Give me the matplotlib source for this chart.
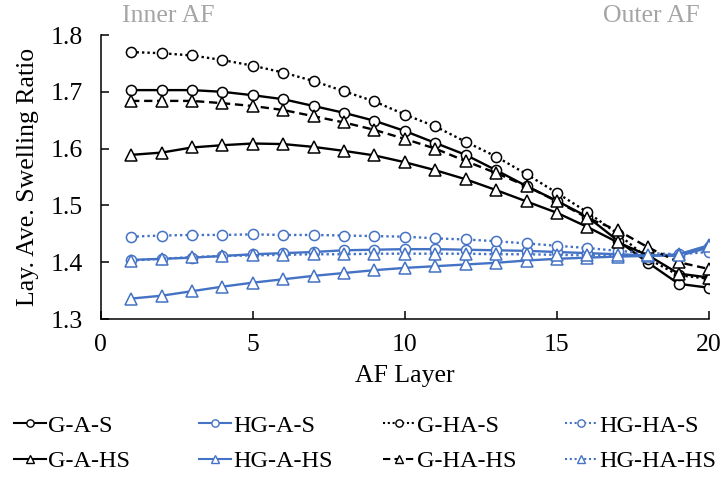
import matplotlib
matplotlib.use("Agg")
import matplotlib.pyplot as plt
from matplotlib.lines import Line2D

plt.rcParams['font.family'] = ['Liberation Serif', 'DejaVu Serif']

layers = list(range(1, 21))

g_a_s = [1.703, 1.703, 1.703, 1.700, 1.694, 1.687, 1.675, 1.663, 1.649, 1.631,
         1.610, 1.589, 1.562, 1.534, 1.508, 1.480, 1.438, 1.399, 1.362, 1.355]
g_ha_s = [1.770, 1.768, 1.764, 1.756, 1.746, 1.734, 1.719, 1.701, 1.683, 1.660,
          1.639, 1.612, 1.586, 1.555, 1.522, 1.488, 1.450, 1.406, 1.377, 1.371]
g_a_hs = [1.589, 1.593, 1.602, 1.606, 1.609, 1.608, 1.603, 1.596, 1.588, 1.576,
          1.562, 1.546, 1.527, 1.507, 1.487, 1.462, 1.435, 1.412, 1.380, 1.373]
g_ha_hs = [1.684, 1.684, 1.684, 1.680, 1.675, 1.668, 1.657, 1.646, 1.633, 1.617,
           1.600, 1.578, 1.557, 1.534, 1.507, 1.478, 1.456, 1.426, 1.400, 1.388]

hg_a_s = [1.404, 1.406, 1.408, 1.411, 1.414, 1.416, 1.418, 1.421, 1.422, 1.423,
          1.423, 1.422, 1.421, 1.420, 1.418, 1.416, 1.414, 1.412, 1.411, 1.426]
hg_ha_s = [1.445, 1.447, 1.448, 1.448, 1.449, 1.448, 1.448, 1.447, 1.446, 1.445,
           1.442, 1.440, 1.437, 1.433, 1.429, 1.425, 1.420, 1.416, 1.414, 1.418]
hg_a_hs = [1.336, 1.341, 1.349, 1.357, 1.364, 1.370, 1.376, 1.381, 1.386, 1.390,
           1.393, 1.396, 1.399, 1.403, 1.406, 1.408, 1.410, 1.411, 1.414, 1.430]
hg_ha_hs = [1.403, 1.406, 1.409, 1.411, 1.412, 1.413, 1.414, 1.414, 1.415, 1.415,
            1.415, 1.415, 1.414, 1.414, 1.413, 1.412, 1.412, 1.412, 1.413, 1.428]

x_ticks = [0, 5, 10, 15, 20]
y_ticks = [1.3, 1.4, 1.5, 1.6, 1.7, 1.8]

BLACK = '#000000'
BLUE = '#4472C4'
DOT = (0, (1, 1.3))
DASH = (0, (3.5, 2))

series = [
    # label, values, color, linestyle, marker
    ('G-A-S', g_a_s, BLACK, '-', 'o'),
    ('HG-A-S', hg_a_s, BLUE, '-', 'o'),
    ('G-HA-S', g_ha_s, BLACK, DOT, 'o'),
    ('HG-HA-S', hg_ha_s, BLUE, DOT, 'o'),
    ('G-A-HS', g_a_hs, BLACK, '-', '^'),
    ('HG-A-HS', hg_a_hs, BLUE, '-', '^'),
    ('G-HA-HS', g_ha_hs, BLACK, DASH, '^'),
    ('HG-HA-HS', hg_ha_hs, BLUE, DOT, '^'),
]

W, H = 721, 479
fig = plt.figure(figsize=(W / 100, H / 100), dpi=100)
ax = fig.add_axes([0.1397, 0.334, 0.8437, 0.5929])

handles = {}
for label, vals, color, ls, mk in series:
    ms = 7.3 if mk == 'o' else 8.3
    ax.plot(layers, vals, color=color, linestyle=ls, linewidth=1.7,
            marker=mk, markersize=ms, markerfacecolor='white',
            markeredgecolor=color, markeredgewidth=1.1)
    handles[label] = Line2D([], [], color=color, linestyle=ls, linewidth=1.5,
                            marker=mk, markersize=ms * 0.72,
                            markerfacecolor='white', markeredgecolor=color,
                            markeredgewidth=1.0)

ax.set_xlim(0, 20)
ax.set_ylim(1.3, 1.8)
ax.set_xticks(x_ticks)
ax.set_yticks(y_ticks)
ax.set_yticklabels([f'{v:.1f}' for v in y_ticks])
for side in ('top', 'right'):
    ax.spines[side].set_visible(False)
for side in ('left', 'bottom'):
    ax.spines[side].set_linewidth(1.1)
ax.tick_params(direction='in', length=6, width=1.1, labelsize=18.5)
ax.tick_params(axis='x', pad=11)
ax.tick_params(axis='y', pad=13)

ax.set_xlabel('AF Layer', fontsize=18.5, labelpad=6)
ax.set_ylabel('Lay. Ave. Swelling Ratio', fontsize=18.5, labelpad=8)

fig.text(122 / W, 1 - 22 / H, 'Inner AF', color='#A5A5A5', fontsize=18.5,
         ha='left', va='baseline')
fig.text(700 / W, 1 - 22 / H, 'Outer AF', color='#A5A5A5', fontsize=18.5,
         ha='right', va='baseline')

# one two-row legend per column, so the columns sit at even spacing
columns = [('G-A-S', 'G-A-HS'), ('HG-A-S', 'HG-A-HS'),
           ('G-HA-S', 'G-HA-HS'), ('HG-HA-S', 'HG-HA-HS')]
col_x = [14, 199, 383, 565]
for x0, labels in zip(col_x, columns):
    fig.legend([handles[k] for k in labels], list(labels), loc='center left',
               bbox_to_anchor=(x0 / W, 1 - 443.5 / H), frameon=False,
               fontsize=17.5, handlelength=1.3, handletextpad=0.1,
               labelspacing=0.55, borderpad=0.0, borderaxespad=0.0)

fig.savefig('out.png', dpi=100)
